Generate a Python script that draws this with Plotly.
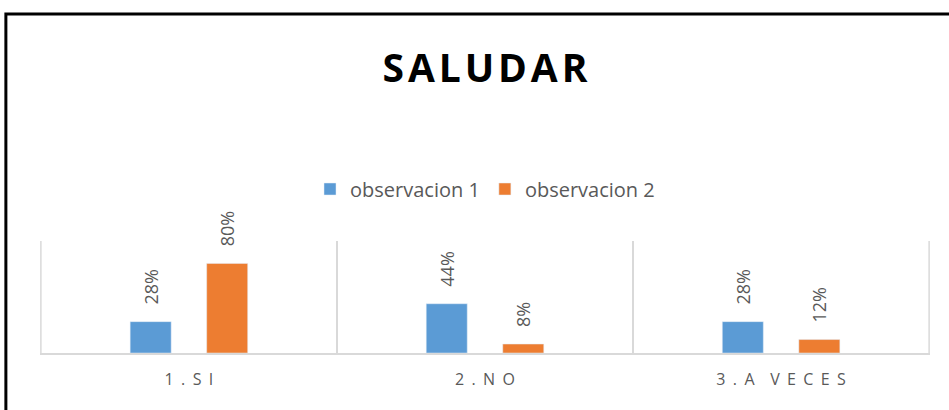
import plotly.graph_objects as go

categories = ["1.SI", "2.NO", "3.A VECES"]
sp = "\u00a0\u200a\u200a"
tick_labels = [sp.join(["1", ".", "S", "I"]),
               sp.join(["2", ".", "N", "O"]),
               sp.join(["3", ".", "A"]) + "\u00a0\u00a0" + sp + sp.join(["V", "E", "C", "E", "S"])]
obs1 = [0.28, 0.44, 0.28]
obs2 = [0.80, 0.08, 0.12]
series_names = ["observacion 1", "observacion 2"]
title_text = "SALUDAR"

W, H = 949, 410
XR = [-0.503, 2.503]
pitch = 296
ml = 41 - (XR[0] + 0.5) * -pitch
pw = (XR[1] - XR[0]) * pitch
mr = W - ml - pw
mt = 241
mb = H - 353
ph = H - mt - mb

def px_x(p):
    return (p - ml) / pw

def px_y(p):
    return (H - mb - p) / ph

gray = "#595959"
grid = "#D9D9D9"
label_tpl = "\u00a0\u00a0\u00a0%{y:.0%}"
spaced_title = "\u200a".join(title_text)

fig = go.Figure()
for vals, name, color in [(obs1, series_names[0], "#5B9BD5"), (obs2, series_names[1], "#ED7D31")]:
    fig.add_trace(go.Bar(x=categories, y=vals, name=name, marker_color=color,
                         text=vals, texttemplate=label_tpl, textposition="outside", textangle=-90,
                         constraintext="none",
                         textfont=dict(color=gray, size=18), cliponaxis=False))

fig.update_layout(
    width=W, height=H,
    margin=dict(l=ml, r=mr, t=mt, b=mb, pad=0),
    paper_bgcolor="white", plot_bgcolor="white",
    font=dict(family="Open Sans", color=gray),
    barmode="group", bargap=0.483, bargroupgap=0.464,
    title=dict(text="<b>" + spaced_title + "</b>", x=0.5, xanchor="center", xref="paper",
               y=1 - 68 / H, yanchor="middle",
               yref="container", font=dict(family="Open Sans", size=39, color="black")),
    legend=dict(orientation="h", x=0.5, xanchor="center", y=px_y(189), yanchor="middle",
                font=dict(size=20, color=gray), itemwidth=30, traceorder="normal"),
    xaxis=dict(tickvals=categories, ticktext=tick_labels, tickson="boundaries", showgrid=True,
               range=XR,
               gridcolor=grid, gridwidth=1.5, showline=True, linecolor=grid, linewidth=1.5,
               ticks="", tickfont=dict(size=16, color=gray), ticklabelstandoff=11),
    yaxis=dict(range=[0, 1], visible=False),
)

# category boundary lines at the outer edges
for xb in [-0.5, len(categories) - 0.5]:
    fig.add_shape(type="line", xref="x", yref="y", x0=xb, x1=xb, y0=0, y1=1,
                  line=dict(color=grid, width=1.5), layer="below")

fig.add_shape(type="rect", xref="paper", yref="paper",
              x0=px_x(6), x1=px_x(1000), y0=px_y(470), y1=px_y(14),
              line=dict(color="black", width=3), fillcolor="rgba(0,0,0,0)", layer="above")

fig.write_html("out.html", config={"displayModeBar": False},
               post_script="document.body.style.margin='0px';")
